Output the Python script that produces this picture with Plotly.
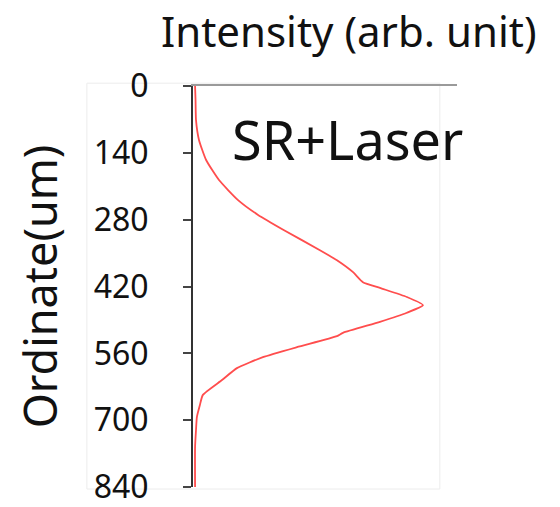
import plotly.graph_objects as go

# Depth profile of the SR+Laser signal
depth_um = [0, 29, 71, 113, 155, 197, 239, 270, 302, 344, 365, 390, 411, 423,
            442, 459, 475, 494, 517, 524, 547, 568, 591, 616, 647, 668, 693,
            721, 756, 840]
intensity = [0.009, 0.011, 0.013, 0.026, 0.057, 0.113, 0.196, 0.283, 0.396,
             0.552, 0.626, 0.696, 0.739, 0.813, 0.930, 1.0, 0.930, 0.813,
             0.652, 0.626, 0.452, 0.304, 0.191, 0.126, 0.043, 0.030, 0.017,
             0.013, 0.009, 0.009]
y_ticks = [0, 140, 280, 420, 560, 700, 840]

FONT = "Noto Sans"

fig = go.Figure()
fig.add_trace(go.Scatter(
    x=intensity, y=depth_um, mode="lines",
    line=dict(color="#ff4d4d", width=1.8, shape="spline", smoothing=0.5),
    showlegend=False, hoverinfo="skip",
))

fig.update_layout(
    width=560, height=507,
    margin=dict(l=193, r=103, t=86, b=20),
    paper_bgcolor="white", plot_bgcolor="white",
    font=dict(family=FONT, color="#111"),
    xaxis=dict(
        range=[0, 1.148], side="top", showgrid=False, zeroline=False,
        showticklabels=False, ticks="", showline=True, automargin=False,
        linecolor="#9a9a9a", linewidth=2,
    ),
    yaxis=dict(
        range=[840, 0], showgrid=False, zeroline=False, automargin=False,
        tickvals=y_ticks, ticktext=[str(v) for v in y_ticks],
        ticks="outside", ticklen=8, tickwidth=1.5, tickcolor="#444",
        showline=True, linecolor="#333", linewidth=2,
        ticklabelstandoff=28, ticklabeloverflow="allow",
        tickfont=dict(size=32, family=FONT, color="#111"),
        title=dict(text="Ordinate(um)", font=dict(size=45, family=FONT, color="#111"),
                   standoff=22),
    ),
    shapes=[dict(type="rect", xref="paper", yref="paper",
                 x0=-0.402, x1=0.935, y0=-0.005, y1=1.007,
                 line=dict(color="#ececec", width=1), layer="below")],
    annotations=[
        dict(text="Intensity (arb. unit)", xref="paper", yref="paper",
             x=0.59, y=1.0, yshift=56, xanchor="center", yanchor="middle",
             showarrow=False, font=dict(size=42, family=FONT, color="#111")),
        dict(text="SR+Laser", xref="paper", yref="paper",
             x=0.14, y=0.867, xanchor="left", yanchor="middle",
             showarrow=False, font=dict(size=54, family=FONT, color="#111")),
    ],
)

fig.write_html("out.html")
